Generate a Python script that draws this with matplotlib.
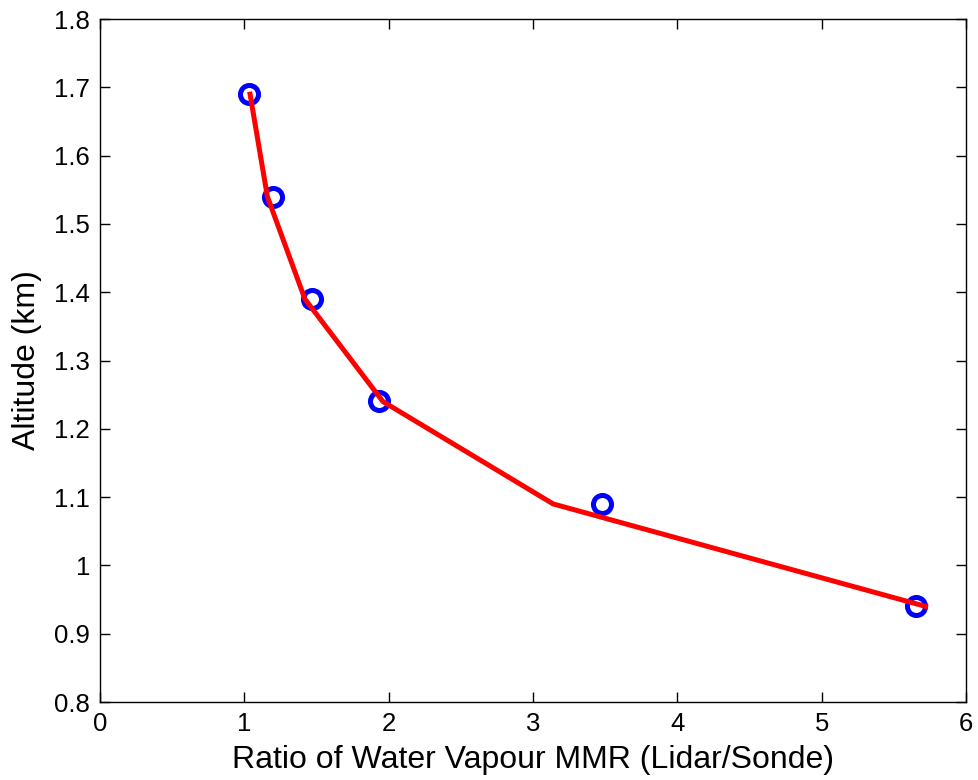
import matplotlib
matplotlib.use('Agg')
import matplotlib.pyplot as plt

# fitted curve
line_x = [1.04, 1.16, 1.42, 1.96, 3.14, 5.72]
line_y = [1.69, 1.54, 1.39, 1.24, 1.09, 0.94]
# measured ratios
ratio_x = [1.035, 1.20, 1.467, 1.936, 3.476, 5.655]
alt_y = [1.69, 1.54, 1.39, 1.24, 1.09, 0.94]

xticks = [0, 1, 2, 3, 4, 5, 6]
yticks = [0.8, 0.9, 1.0, 1.1, 1.2, 1.3, 1.4, 1.5, 1.6, 1.7, 1.8]
ytick_labels = ['0.8', '0.9', '1', '1.1', '1.2', '1.3', '1.4', '1.5', '1.6', '1.7', '1.8']

plt.rcParams['font.family'] = ['Liberation Sans', 'DejaVu Sans']

fig = plt.figure(figsize=(9.79, 7.8), dpi=100)
ax = fig.add_axes([0.1021, 0.1, 0.8846, 0.8756])

ax.plot(ratio_x, alt_y, 'o', markersize=13, markerfacecolor='none',
        markeredgecolor='#0000ff', markeredgewidth=3.6, zorder=2)
ax.plot(line_x, line_y, '-', color='#ff0000', linewidth=3.6, zorder=3)

ax.set_xlim(0, 6)
ax.set_ylim(0.8, 1.8)
ax.set_xticks(xticks)
ax.set_yticks(yticks)
ax.set_yticklabels(ytick_labels)
ax.tick_params(direction='in', length=7, width=1, labelsize=18.5,
               top=True, right=True, pad=7)
for s in ax.spines.values():
    s.set_linewidth(1)

ax.set_xlabel('Ratio of Water Vapour MMR (Lidar/Sonde)', fontsize=23, labelpad=7)
ax.set_ylabel('Altitude (km)', fontsize=23, labelpad=9)

fig.savefig('out.png', dpi=100)
